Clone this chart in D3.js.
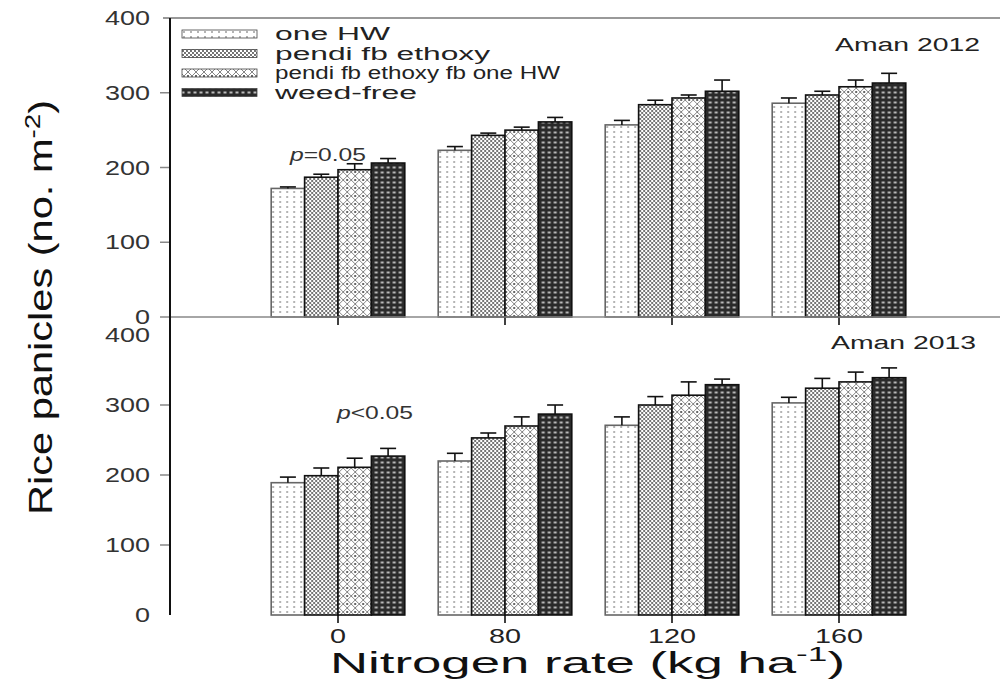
<!DOCTYPE html>
<html lang="en">
<head>
<meta charset="UTF-8">
<title>Rice panicles</title>
<script src="https://cdn.jsdelivr.net/npm/d3@7"></script>
<style>
    body { margin: 0; background: #fff; }
    text { font-family: "Liberation Sans", Arial, sans-serif; }
</style>
</head>
<body>
<script>
    // data
    const groups = ['0', '80', '120', '160']
    const series = ['one HW', 'pendi fb ethoxy', 'pendi fb ethoxy fb one HW', 'weed-free']
    const panelNames = ['Aman 2012', 'Aman 2013']
    const pLabels = ['p=0.05', 'p<0.05']
    const mean2012 = [[172, 187, 197, 206], [223, 243, 250, 261], [257, 284, 293, 302], [286, 297, 308, 313]]
    const se2012 = [[2, 4, 8, 6], [5, 3, 4, 6], [6, 6, 4, 15], [7, 5, 9, 13]]
    const mean2013 = [[189, 199, 211, 227], [220, 253, 270, 287], [271, 300, 314, 329], [303, 324, 333, 339]]
    const se2013 = [[8, 11, 13, 11], [11, 7, 13, 13], [12, 12, 19, 8], [8, 14, 14, 14]]
    const yTicks = [0, 100, 200, 300, 400]

    const [W, H] = [1000, 682]
    const axisX = 170
    const svg = d3.select('body').append('svg').attr('width', W).attr('height', H)

    // fill patterns
    const defs = svg.append('defs')
    const pat = (id, w, h) => defs.append('pattern').attr('id', id)
        .attr('patternUnits', 'userSpaceOnUse').attr('width', w).attr('height', h)
    let p = pat('p0', 7, 5)
    p.append('rect').attr('width', 7).attr('height', 5).attr('fill', '#fff')
    p.append('circle').attr('cx', 2).attr('cy', 2).attr('r', 0.8).attr('fill', '#555')
    p = pat('p1', 4, 4)
    p.append('rect').attr('width', 4).attr('height', 4).attr('fill', '#fff')
    p.append('circle').attr('cx', 1).attr('cy', 1).attr('r', 0.9).attr('fill', '#333')
    p.append('circle').attr('cx', 3).attr('cy', 3).attr('r', 0.9).attr('fill', '#333')
    p = pat('p2', 8, 8)
    p.append('rect').attr('width', 8).attr('height', 8).attr('fill', '#fff')
    p.append('path').attr('d', 'M0,4 L4,0 L8,4 L4,8 Z').attr('fill', 'none').attr('stroke', '#666').attr('stroke-width', 0.8)
    p.append('circle').attr('cx', 4).attr('cy', 4).attr('r', 1).attr('fill', '#333')
    p = pat('p3', 6, 5)
    p.append('rect').attr('width', 6).attr('height', 5).attr('fill', '#2a2a2a')
    p.append('rect').attr('x', 1.5).attr('y', 1.5).attr('width', 3).attr('height', 2).attr('fill', '#bbb')
    const fills = d3.scaleOrdinal().domain(series).range(['url(#p0)', 'url(#p1)', 'url(#p2)', 'url(#p3)'])

    const x0 = d3.scaleBand().domain(groups).range([254.5, 922.5]).paddingInner(0.2).paddingOuter(0.1)
    const x1 = d3.scaleBand().domain(series).range([0, x0.bandwidth()])

    const panels = [
        {name: panelNames[0], mean: mean2012, se: se2012, y: d3.scaleLinear().domain([0, 400]).range([317, 18]), p: pLabels[0], pPos: [290, 161], namePos: [980, 51]},
        {name: panelNames[1], mean: mean2013, se: se2013, y: d3.scaleLinear().domain([0, 400]).range([615, 335]), p: pLabels[1], pPos: [337, 419], namePos: [976, 349]}
    ]

    panels.forEach(pn => {
        const g = svg.append('g')
        // y tick labels and ticks
        g.selectAll('text.ytick').data(yTicks).enter().append('text')
            .attr('x', 150).attr('y', d => pn.y(d) + 7)
            .attr('text-anchor', 'end').attr('font-size', 20).attr('fill', '#333')
            .attr('textLength', d => String(d).length * 15).attr('lengthAdjust', 'spacingAndGlyphs')
            .text(d => d)
        g.selectAll('line.ytick').data(yTicks.slice(1, 4)).enter().append('line')
            .attr('x1', axisX - 10).attr('x2', axisX).attr('y1', d => pn.y(d)).attr('y2', d => pn.y(d))
            .attr('stroke', '#888').attr('stroke-width', 1.5)

        // bars
        const grp = g.selectAll('g.grp').data(groups).enter().append('g')
            .attr('transform', d => `translate(${x0(d)},0)`)
        grp.selectAll('rect').data((d, i) => series.map((s, j) => ({s, v: pn.mean[i][j], e: pn.se[i][j]})))
            .enter().append('rect')
            .attr('x', d => x1(d.s)).attr('width', x1.bandwidth())
            .attr('y', d => pn.y(d.v)).attr('height', d => pn.y(0) - pn.y(d.v))
            .attr('fill', d => fills(d.s))
            .attr('stroke', (d, i) => i === 0 ? '#666' : '#111').attr('stroke-width', 1.6)
        // error bars
        const eb = grp.selectAll('g.eb').data((d, i) => series.map((s, j) => ({s, v: pn.mean[i][j], e: pn.se[i][j]})))
            .enter().append('g')
        eb.append('line')
            .attr('x1', d => x1(d.s) + x1.bandwidth() / 2).attr('x2', d => x1(d.s) + x1.bandwidth() / 2)
            .attr('y1', d => pn.y(d.v)).attr('y2', d => pn.y(d.v + d.e))
            .attr('stroke', '#111').attr('stroke-width', 1.6)
        eb.append('line')
            .attr('x1', d => x1(d.s) + x1.bandwidth() / 2 - 8).attr('x2', d => x1(d.s) + x1.bandwidth() / 2 + 8)
            .attr('y1', d => pn.y(d.v + d.e)).attr('y2', d => pn.y(d.v + d.e))
            .attr('stroke', '#111').attr('stroke-width', 1.6)

        // x ticks at group centres
        g.selectAll('line.xtick').data(groups).enter().append('line')
            .attr('x1', d => x0(d) + x0.bandwidth() / 2).attr('x2', d => x0(d) + x0.bandwidth() / 2)
            .attr('y1', pn.y(0)).attr('y2', pn.y(0) + 8)
            .attr('stroke', '#111').attr('stroke-width', 1.6)

        // panel label and p value
        g.append('text').attr('x', pn.namePos[0]).attr('y', pn.namePos[1])
            .attr('text-anchor', 'end').attr('font-size', 18).attr('fill', '#222')
            .attr('textLength', 145).attr('lengthAdjust', 'spacingAndGlyphs')
            .text(pn.name)
        const pt = g.append('text').attr('x', pn.pPos[0]).attr('y', pn.pPos[1])
            .attr('font-size', 18).attr('fill', '#333')
            .attr('textLength', 76).attr('lengthAdjust', 'spacingAndGlyphs')
        pt.append('tspan').attr('font-style', 'italic').text(pn.p[0])
        pt.append('tspan').text(pn.p.slice(1))
    })

    // frame lines
    svg.append('line').attr('x1', 163).attr('x2', W).attr('y1', 18).attr('y2', 18)
        .attr('stroke', '#777').attr('stroke-width', 1.5)
    svg.append('line').attr('x1', 160).attr('x2', W).attr('y1', 317).attr('y2', 317)
        .attr('stroke', '#888').attr('stroke-width', 1.5)
    svg.append('line').attr('x1', axisX).attr('x2', axisX).attr('y1', 18).attr('y2', 615)
        .attr('stroke', '#111').attr('stroke-width', 2)

    // x tick labels
    svg.selectAll('text.xlab').data(groups).enter().append('text')
        .attr('x', d => x0(d) + x0.bandwidth() / 2).attr('y', 643)
        .attr('text-anchor', 'middle').attr('font-size', 20).attr('fill', '#222')
        .attr('textLength', d => d.length * 16).attr('lengthAdjust', 'spacingAndGlyphs')
        .text(d => d)

    // legend
    const leg = svg.append('g')
    series.forEach((s, i) => {
        const yy = 34 + i * 19.5
        leg.append('rect').attr('x', 182).attr('y', yy - 4).attr('width', 75).attr('height', 8)
            .attr('fill', fills(s)).attr('stroke', '#444').attr('stroke-width', 0.8)
        leg.append('text').attr('x', 275).attr('y', yy + 6).attr('font-size', 18).attr('fill', '#222')
            .attr('textLength', [115, 215, 285, 142][i]).attr('lengthAdjust', 'spacingAndGlyphs')
            .text(s)
    })

    // axis titles
    const xt = svg.append('text').attr('x', 330).attr('y', 673).attr('font-size', 30).attr('fill', '#111')
        .attr('textLength', 515).attr('lengthAdjust', 'spacingAndGlyphs')
    xt.append('tspan').text('Nitrogen rate (kg ha')
    xt.append('tspan').attr('dy', -12).attr('font-size', 20).text('-1')
    xt.append('tspan').attr('dy', 12).text(')')

    const yt = svg.append('text').attr('transform', 'translate(52,515) rotate(-90)')
        .attr('font-size', 33).attr('fill', '#111')
        .attr('textLength', 415).attr('lengthAdjust', 'spacingAndGlyphs')
    yt.append('tspan').text('Rice panicles (no. m')
    yt.append('tspan').attr('dy', -12).attr('font-size', 22).text('-2')
    yt.append('tspan').attr('dy', 12).text(')')
</script>
</body>
</html>
